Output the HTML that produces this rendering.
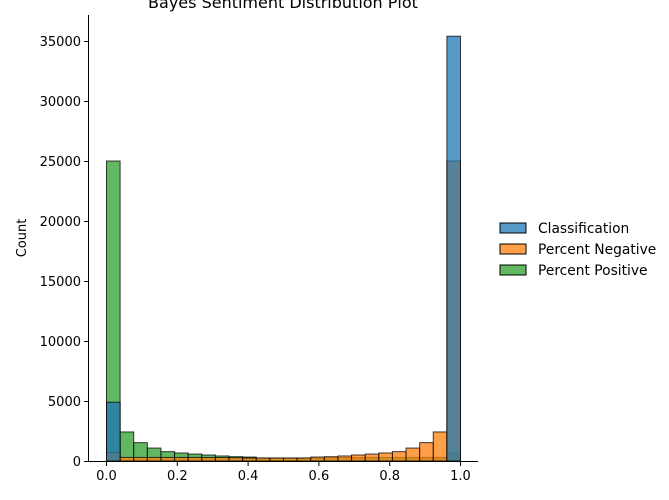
<!DOCTYPE html>
<html><head><meta charset="utf-8"><style>
body{margin:0;background:#fff;}
svg{display:block;font-family:"DejaVu Sans","Liberation Sans",sans-serif;}
</style></head><body>
<svg id="chart" width="669" height="500" viewBox="0 0 669 500">
<text x="283" y="8" font-size="16" text-anchor="middle" fill="#000">Bayes Sentiment Distribution Plot</text>
<g id="bars"></g>
<g id="axes"></g>
<text transform="translate(26,238) rotate(-90)" font-size="13" text-anchor="middle">Count</text>
<g font-size="13.8">
<g><rect x="500" y="223" width="26" height="10" fill="rgba(31,119,180,0.75)" stroke="#000" stroke-width="1"/><text x="538" y="233">Classification</text></g>
<g><rect x="500" y="244" width="26" height="10" fill="rgba(255,127,14,0.75)" stroke="#000" stroke-width="1"/><text x="538" y="254">Percent Negative</text></g>
<g><rect x="500" y="265" width="26" height="10" fill="rgba(44,160,44,0.75)" stroke="#000" stroke-width="1"/><text x="538" y="275">Percent Positive</text></g>
</g>
</svg>
<script>
const binCount = 26;
const seriesNames = ["Percent Positive","Percent Negative","Classification"];
const positiveValues = [25000,2420,1530,1080,780,670,580,500,420,360,330,250,250,250,250,250,280,290,290,300,300,300,300,300,300,700];
const negativeValues = [700,300,300,300,300,300,300,290,290,280,250,250,250,250,250,330,360,420,500,580,670,780,1080,1530,2420,25000];
const classificationValues = [4900,0,0,0,0,0,0,0,0,0,0,0,0,0,0,0,0,0,0,0,0,0,0,0,0,35400];
const xTicks = [0,0.2,0.4,0.6,0.8,1.0];
const xTickLabels = ["0.0","0.2","0.4","0.6","0.8","1.0"];
const yTicks = [0,5000,10000,15000,20000,25000,30000,35000];

const NS="http://www.w3.org/2000/svg";
const x0=106.5,x1=460.5,yBase=461,yPerUnit=420/35000;
const xs=v=>x0+(x1-x0)*v;
const ys=v=>yBase-v*yPerUnit;
const bars=document.getElementById('bars');
const colors=["rgba(44,160,44,0.75)","rgba(255,127,14,0.75)","rgba(31,119,180,0.75)"];
const all=[positiveValues,negativeValues,classificationValues];
all.forEach((vals,si)=>{
  vals.forEach((v,i)=>{
    if(v<=0) return;
    const r=document.createElementNS(NS,'rect');
    
    
    const a=xs(i/binCount),b=xs((i+1)/binCount);
    r.setAttribute('x',a);r.setAttribute('width',b-a);
    r.setAttribute('y',ys(v));r.setAttribute('height',yBase-ys(v));
    r.setAttribute('fill',colors[si]);
    r.setAttribute('stroke','rgba(0,0,0,0.75)');r.setAttribute('stroke-width','1');
    bars.appendChild(r);
  });
});
const axes=document.getElementById('axes');
function line(x1_,y1_,x2_,y2_,name){
  const l=document.createElementNS(NS,'line');
  
  
  l.setAttribute('x1',x1_);l.setAttribute('y1',y1_);l.setAttribute('x2',x2_);l.setAttribute('y2',y2_);
  l.setAttribute('stroke','#000');l.setAttribute('stroke-width','1');
  axes.appendChild(l);
}
function text(x,y,s,anchor,name){
  const t=document.createElementNS(NS,'text');
  
  
  t.setAttribute('x',x);t.setAttribute('y',y);t.setAttribute('font-size','13');
  t.setAttribute('text-anchor',anchor);t.textContent=s;
  axes.appendChild(t);
}
line(88.5,15,88.5,461.5,'y-axis-line');
line(88,461.5,478,461.5,'x-axis-line');
xTicks.forEach((v,i)=>{line(xs(v),461.5,xs(v),466,'x-tick');text(xs(v),480,xTickLabels[i],'middle','x-tick-label');});
yTicks.forEach(v=>{line(84,ys(v)+0.5,88.5,ys(v)+0.5,'y-tick');text(81,ys(v)+5,String(v),'end','y-tick-label');});
</script>
</body></html>
